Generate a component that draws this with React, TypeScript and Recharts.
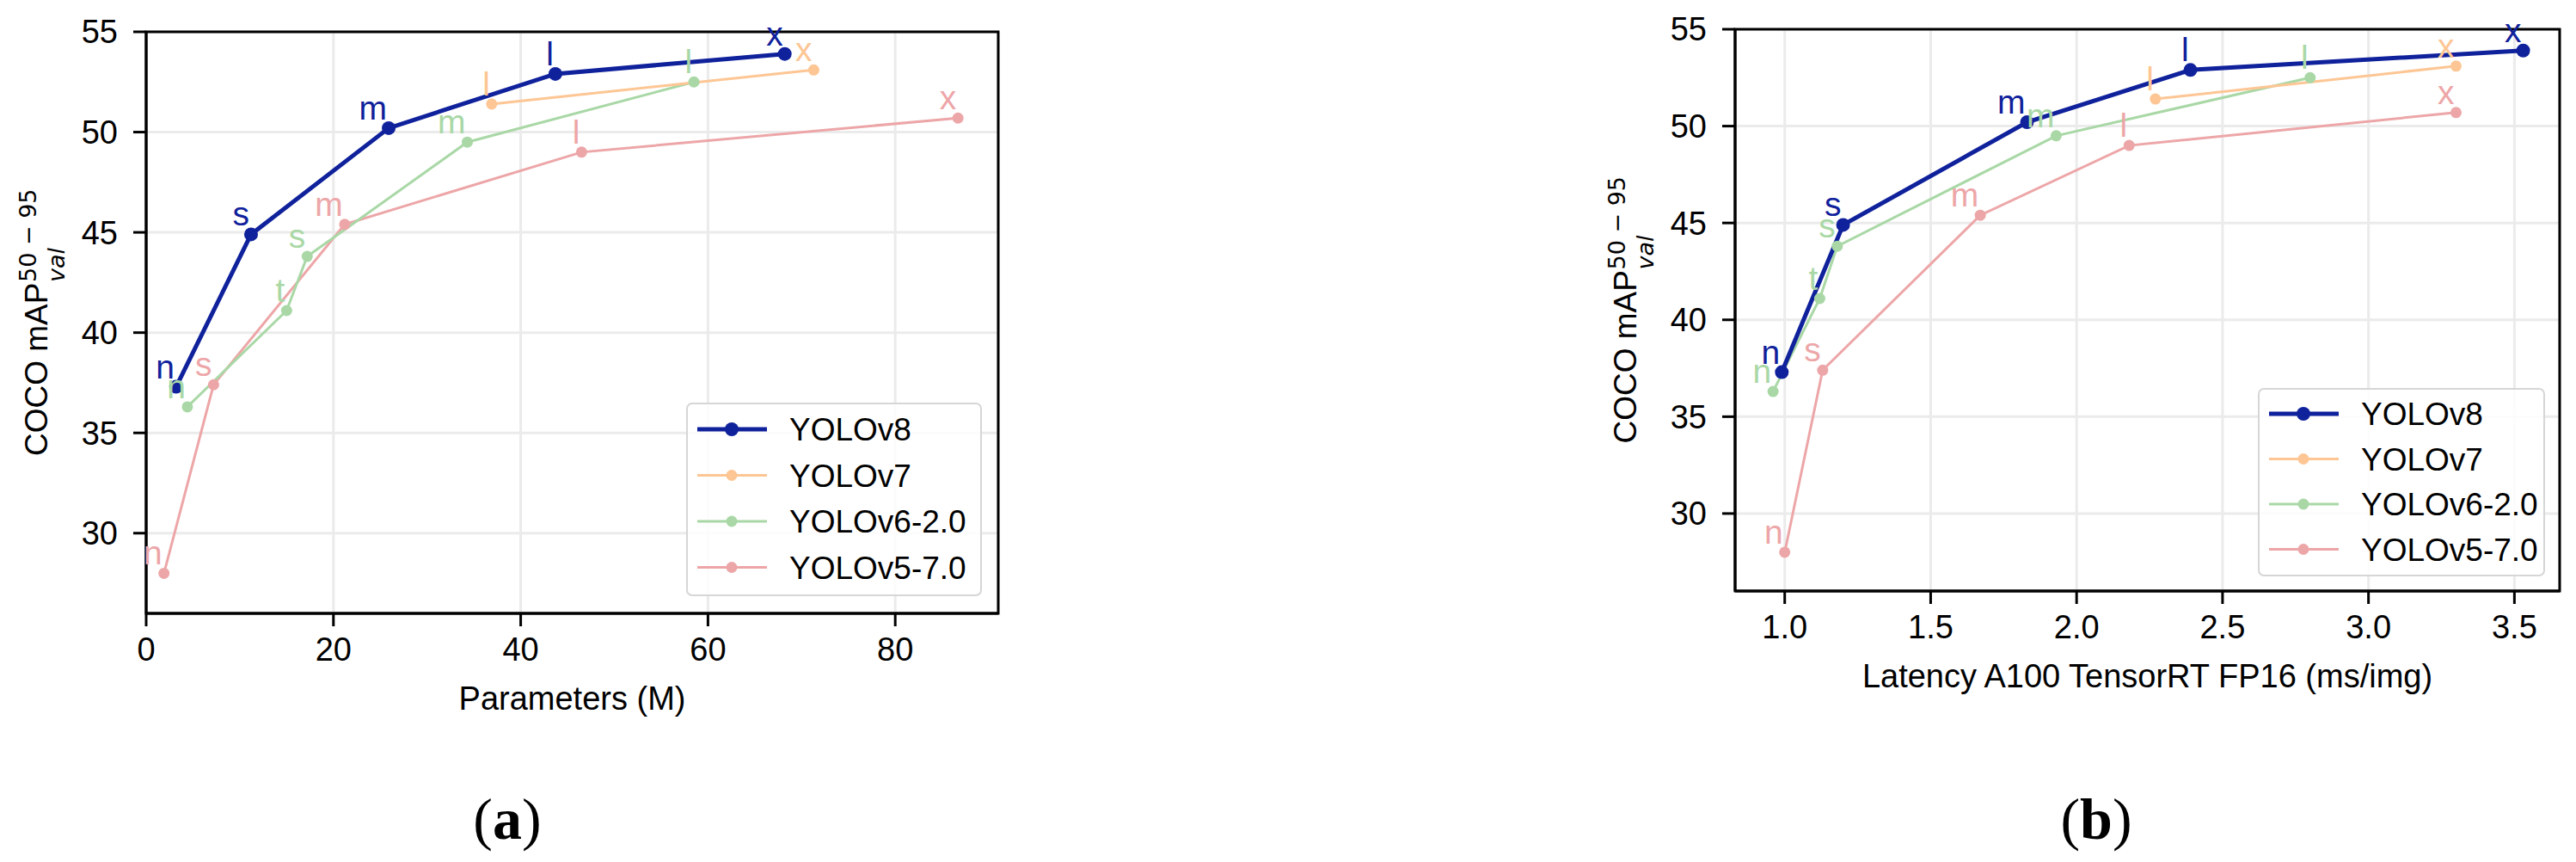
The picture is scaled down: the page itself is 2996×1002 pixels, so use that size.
import React from 'react';
import {
  CartesianGrid,
  Label,
  LabelList,
  Legend,
  Line,
  LineChart,
  ReferenceArea,
  XAxis,
  YAxis,
} from 'recharts';

const FONT = '"Liberation Sans", Arial, sans-serif';
const MATH_FONT = '"DejaVu Sans", sans-serif';

// model sizes / map values
const v8Labels = ['n', 's', 'm', 'l', 'x'];
const v8Params = [3.2, 11.2, 25.9, 43.7, 68.2];
const v8Latency = [0.99, 1.2, 1.83, 2.39, 3.53];
const v8Map = [37.3, 44.9, 50.2, 52.9, 53.9];

const v7Labels = ['l', 'x'];
const v7Params = [36.9, 71.3];
const v7Latency = [2.27, 3.3];
const v7Map = [51.4, 53.1];

const v6Labels = ['n', 't', 's', 'm', 'l'];
const v6Params = [4.4, 15.0, 17.2, 34.3, 58.5];
const v6Latency = [0.96, 1.12, 1.18, 1.93, 2.8];
const v6Map = [36.3, 41.1, 43.8, 49.5, 52.5];

const v5Labels = ['n', 's', 'm', 'l', 'x'];
const v5Params = [1.9, 7.2, 21.2, 46.5, 86.7];
const v5Latency = [1.0, 1.13, 1.67, 2.18, 3.3];
const v5Map = [28.0, 37.4, 45.4, 49.0, 50.7];

const yTicks = [30, 35, 40, 45, 50, 55];
const paramTicks = [0, 20, 40, 60, 80];
const latencyTicks = [1.0, 1.5, 2.0, 2.5, 3.0, 3.5];

const toPoints = (xs: number[], ys: number[], labels: string[]) =>
  xs.map((x, i) => ({ x, y: ys[i], label: labels[i] }));

type Series = { name: string; color: string; width: number; r: number; xs: number[]; ys: number[]; labels: string[] };

const seriesStyle = [
  { name: 'YOLOv8', color: '#0f219b', width: 5, r: 8 },
  { name: 'YOLOv7', color: '#fdc694', width: 3, r: 6.5 },
  { name: 'YOLOv6-2.0', color: '#a9d8a6', width: 3, r: 6.5 },
  { name: 'YOLOv5-7.0', color: '#eda6a8', width: 3, r: 6.5 },
];

const paramSeries: Series[] = [
  { ...seriesStyle[0], xs: v8Params, ys: v8Map, labels: v8Labels },
  { ...seriesStyle[1], xs: v7Params, ys: v7Map, labels: v7Labels },
  { ...seriesStyle[2], xs: v6Params, ys: v6Map, labels: v6Labels },
  { ...seriesStyle[3], xs: v5Params, ys: v5Map, labels: v5Labels },
];

const latencySeries: Series[] = [
  { ...seriesStyle[0], xs: v8Latency, ys: v8Map, labels: v8Labels },
  { ...seriesStyle[1], xs: v7Latency, ys: v7Map, labels: v7Labels },
  { ...seriesStyle[2], xs: v6Latency, ys: v6Map, labels: v6Labels },
  { ...seriesStyle[3], xs: v5Latency, ys: v5Map, labels: v5Labels },
];

const pointLabel = (color: string) => (props: any) => {
  const { x, y, value } = props;
  return (
    <text x={x - 2} y={y - 10} textAnchor="end" fill={color} fontSize={39} fontFamily={FONT}>
      {value}
    </text>
  );
};

const yLabel = (props: any) => {
  const { x, y, width, height } = props.viewBox;
  const cx = x + width - 115;
  const cy = y + height / 2;
  return (
    <g transform={`translate(${cx},${cy}) rotate(-90)`}>
      <text x={-155} y={0} fontSize={37} fontFamily={FONT} fill="#000">
        COCO mAP
      </text>
      <text x={47} y={-13} fontSize={27} fontFamily={MATH_FONT} fill="#000">
        50 − 95
      </text>
      <text x={47} y={20} fontSize={27} fontFamily={MATH_FONT} fontStyle="italic" fill="#000">
        val
      </text>
    </g>
  );
};

const xLabel = (text: string) => (props: any) => {
  const { x, y, width } = props.viewBox;
  return (
    <text x={x + width / 2} y={y + 112} textAnchor="middle" fontSize={38} fontFamily={FONT} fill="#000">
      {text}
    </text>
  );
};

type Box = { left: number; top: number; width: number; height: number };

const legendContent = (box: Box, rowTop: number, rowGap: number) => () => (
  <svg width={box.width} height={box.height} style={{ display: 'block' }}>
    <rect x={1} y={1} width={box.width - 2} height={box.height - 2} rx={6} fill="rgba(255,255,255,0.85)" stroke="#d6d6d6" strokeWidth={2} />
    {seriesStyle.map((s, i) => {
      const cy = rowTop + i * rowGap;
      return (
        <g key={s.name}>
          <line x1={13} x2={94} y1={cy} y2={cy} stroke={s.color} strokeWidth={s.width} />
          <circle cx={53} cy={cy} r={s.r} fill={s.color} />
          <text x={120} y={cy} dy="0.36em" fontSize={37} fontFamily={FONT} fill="#000">
            {s.name}
          </text>
        </g>
      );
    })}
  </svg>
);

type PanelProps = {
  left: number;
  width: number;
  height: number;
  margin: { top: number; right: number; bottom: number; left: number };
  xDomain: [number, number];
  xTicks: number[];
  xTitle: string;
  xFormat?: (v: number) => string;
  series: Series[];
  legend: Box;
  rowTop: number;
  rowGap: number;
};

const Panel = ({ left, width, height, margin, xDomain, xTicks, xTitle, xFormat, series, legend, rowTop, rowGap }: PanelProps) => (
  <div style={{ position: 'absolute', left, top: 0 }}>
    <LineChart width={width} height={height} margin={margin} style={{ fontFamily: FONT }}>
      <CartesianGrid stroke="#ebebeb" strokeWidth={3} />
      <XAxis
        dataKey="x"
        type="number"
        domain={xDomain}
        ticks={xTicks}
        allowDataOverflow
        interval={0}
        height={100}
        tickSize={15}
        tickMargin={13}
        tickFormatter={xFormat}
        tick={{ fontSize: 38, fill: '#000', fontFamily: FONT }}
        tickLine={{ stroke: '#000', strokeWidth: 3 }}
        axisLine={{ stroke: '#000', strokeWidth: 3 }}
      >
        <Label content={xLabel(xTitle)} />
      </XAxis>
      <YAxis
        type="number"
        domain={[26, 55]}
        ticks={yTicks}
        allowDataOverflow
        interval={0}
        width={100}
        tickSize={15}
        tickMargin={18}
        tick={{ fontSize: 38, fill: '#000', fontFamily: FONT }}
        tickLine={{ stroke: '#000', strokeWidth: 3 }}
        axisLine={{ stroke: '#000', strokeWidth: 3 }}
      >
        <Label content={yLabel} />
      </YAxis>
      {[...series].reverse().map((s) => (
        <Line
          key={s.name}
          data={toPoints(s.xs, s.ys, s.labels)}
          dataKey="y"
          name={s.name}
          stroke={s.color}
          strokeWidth={s.width}
          dot={{ r: s.r, fill: s.color, stroke: s.color, strokeWidth: 0 }}
          activeDot={false}
          isAnimationActive={false}
        >
          <LabelList dataKey="label" content={pointLabel(s.color)} />
        </Line>
      ))}
      <ReferenceArea
        x1={xDomain[0]}
        x2={xDomain[1]}
        y1={26}
        y2={55}
        fill="none"
        fillOpacity={0}
        stroke="#000"
        strokeWidth={3}
        ifOverflow="visible"
      />
      <Legend
        layout="vertical"
        align="center"
        verticalAlign="middle"
        wrapperStyle={{ left: legend.left, top: legend.top, width: legend.width, height: legend.height }}
        content={legendContent(legend, rowTop, rowGap)}
      />
    </LineChart>
  </div>
);

const App = () => (
  <div style={{ position: 'absolute', left: 0, top: 0, width: 2996, height: 1002, background: '#fff', overflow: 'hidden' }}>
    <Panel
      left={0}
      width={1200}
      height={860}
      margin={{ top: 37, right: 39, bottom: 47, left: 70 }}
      xDomain={[0, 91]}
      xTicks={paramTicks}
      xTitle="Parameters (M)"
      series={paramSeries}
      legend={{ left: 798, top: 468, width: 344, height: 225 }}
      rowTop={31}
      rowGap={53.5}
    />
    <Panel
      left={1800}
      width={1196}
      height={860}
      margin={{ top: 34, right: 19, bottom: 73, left: 118 }}
      xDomain={[0.83, 3.655]}
      xTicks={latencyTicks}
      xTitle="Latency A100 TensorRT FP16 (ms/img)"
      xFormat={(v: number) => v.toFixed(1)}
      series={latencySeries}
      legend={{ left: 826, top: 451, width: 334, height: 219 }}
      rowTop={30}
      rowGap={52.5}
    />
    <svg width={2996} height={1002} style={{ position: 'absolute', left: 0, top: 0, pointerEvents: 'none' }}>
      <text x={590} y={975} textAnchor="middle" fontSize={68} fontFamily='"Liberation Serif", serif' fill="#000">
        (<tspan fontWeight="bold">a</tspan>)
      </text>
      <text x={2438} y={975} textAnchor="middle" fontSize={68} fontFamily='"Liberation Serif", serif' fill="#000">
        (<tspan fontWeight="bold">b</tspan>)
      </text>
    </svg>
  </div>
);

export default App;
